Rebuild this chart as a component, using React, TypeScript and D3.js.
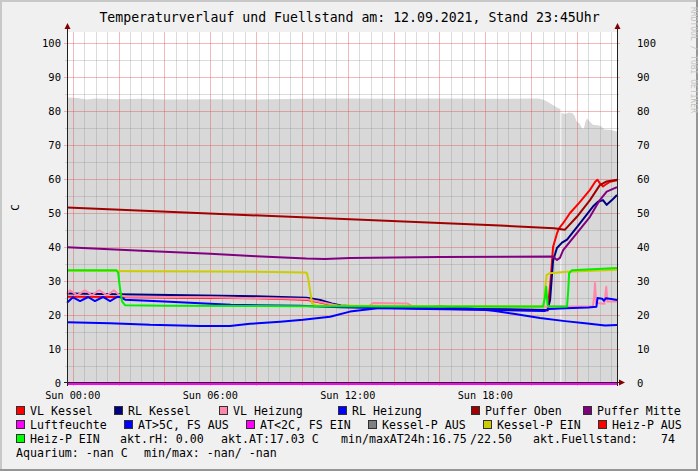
import React from "react";
import * as d3 from "d3";

type P = [number, number];

const W = 698;
const H = 471;
const PLOT_L = 67;
const PLOT_R = 617;
const PLOT_B = 383;
const PLOT_T = 32;
const H_START = -0.25;
const H_END = 23.75;
const Y_MAX = 103.25;
const FONT = "'DejaVu Sans Mono', monospace";

const titleText = "Temperaturverlauf und Fuellstand am: 12.09.2021, Stand 23:45Uhr";
const yLabel = "C";
const watermark = "RRDTOOL / TOBI OETIKER";

const xTickHours = [0, 6, 12, 18];
const xTickLabels = ["Sun 00:00", "Sun 06:00", "Sun 12:00", "Sun 18:00"];
const yTickValues = [0, 10, 20, 30, 40, 50, 60, 70, 80, 90, 100];

const fuellstand: P[] = [
  [-0.25, 84.0], [0.2, 83.8], [0.6, 83.4], [1.0, 83.7], [2, 83.5], [3, 83.6], [4, 83.4],
  [6, 83.5], [8, 83.4], [10, 83.6], [12, 83.7], [14, 83.6], [16, 83.7], [18, 83.6],
  [20.3, 83.7], [20.55, 83.3], [20.75, 82.6], [20.95, 81.8], [21.15, 81.0], [21.28, 80.6],
  [21.3, NaN], [21.32, 79.4], [21.5, 79.1], [21.65, 79.6], [21.8, 79.4], [21.9, 78.6],
  [21.98, 77.0], [22.1, 76.4], [22.22, 75.0], [22.3, 74.8], [22.38, 77.0], [22.45, 77.8],
  [22.55, 77.0], [22.7, 76.0], [22.9, 75.8], [23.05, 75.6], [23.2, 74.6], [23.45, 74.5],
  [23.75, 74.0],
];

const vlKessel: P[] = [
  [-0.25, 25.4], [2, 25.3], [5, 25.1], [8, 24.9], [10.2, 24.5], [10.8, 23.7], [11.3, 22.9],
  [11.7, 22.5], [13, 22.3], [15, 22.0], [17, 21.7], [19, 21.5], [20.72, 21.3], [20.85, 30],
  [20.96, 40], [21.13, 44], [21.22, 45.5], [21.4, 47], [21.7, 50], [22.1, 53], [22.57, 56.8],
  [22.8, 59.2], [22.9, 59.8], [23.0, 58.8], [23.14, 57.8], [23.3, 58.6], [23.45, 59.2],
  [23.75, 59.6],
];

const rlKessel: P[] = [
  [-0.25, 26.3], [2, 26.1], [5, 25.8], [8, 25.5], [10.2, 25.1], [10.8, 24.4], [11.3, 23.4],
  [11.7, 22.8], [13, 22.3], [15, 22.0], [17, 21.8], [19, 21.7], [20.72, 21.5], [20.83, 24.4],
  [20.96, 36], [21.13, 39.7], [21.35, 41.3], [21.57, 42.2], [22.14, 47], [22.7, 51.9],
  [22.92, 53.3], [23.14, 53.8], [23.3, 52.4], [23.53, 53.8], [23.75, 55.3],
];

const vlHeizung: P[] = [
  [-0.25, 26.2], [-0.12, 27.3], [0.19, 25.8], [0.535, 27.3], [0.84, 25.8], [1.146, 27.3],
  [1.5, 25.8], [1.8, 27.3], [2.0, 26.0], [2.3, 25.4], [6, 25.2], [10.2, 24.7], [10.8, 23.8],
  [11.7, 22.6], [12.9, 22.5], [13.1, 23.5], [14.6, 23.4], [14.8, 22.6], [20.6, 22.4], [21, 22.5],
  [22.7, 22.6], [22.76, 26], [22.79, 29.4], [22.84, 23.5], [23.2, 23.3], [23.25, 26.5],
  [23.28, 28.3], [23.33, 24.0], [23.75, 24.0],
];

const rlHeizung: P[] = [
  [-0.25, 23.6], [0.01, 25.2], [0.32, 24.1], [0.67, 25.3], [0.97, 24.1], [1.32, 25.3],
  [1.63, 24.1], [1.93, 25.3], [2.06, 25.3], [2.28, 24.5], [4, 24.0], [6.9, 23.0], [9.9, 22.7],
  [11.7, 22.3], [14, 21.9], [17, 21.6], [19, 21.4], [20.6, 21.2], [20.8, 21.8], [21.5, 22.0],
  [22.5, 22.2], [22.85, 22.4], [22.9, 25.0], [23.1, 24.8], [23.18, 24.2], [23.26, 24.9],
  [23.5, 24.7], [23.75, 24.4],
];

const pufferOben: P[] = [
  [-0.25, 51.6], [18.64, 46.3], [21.0, 45.5], [21.48, 45.1], [22.0, 48.9], [22.57, 53.8],
  [23.0, 58.2], [23.3, 59.3], [23.75, 59.8],
];

const pufferMitte: P[] = [
  [-0.25, 39.9], [3, 38.9], [6, 38.0], [8, 37.3], [10.2, 36.6], [11, 36.5], [12.1, 36.8],
  [16, 37.1], [20.96, 37.2], [21.13, 36.2], [21.26, 36.8], [21.4, 39.1], [22.0, 44.1],
  [22.57, 48.9], [23.0, 53.8], [23.3, 56.3], [23.75, 57.6],
];

const luftfeuchte: P[] = [[-0.25, 0], [23.75, 0]];

const aussenTemp: P[] = [
  [-0.25, 17.9], [1.63, 17.6], [3.37, 17.1], [5.55, 16.8], [6.86, 16.75], [7.74, 17.4],
  [9.05, 18.0], [10.05, 18.6], [11.23, 19.5], [12.1, 21.0], [13.3, 22.0], [15.15, 22.2],
  [16.03, 22.5], [17.34, 22.0], [18.43, 21.2], [19.3, 20.3], [20.39, 19.1], [21.48, 18.2],
  [22.36, 17.6], [23.23, 16.9], [23.75, 17.03],
];

const kesselPEin: P[] = [
  [-0.25, 33.0], [3, 32.9], [6, 32.8], [8, 32.7], [10.15, 32.5], [10.22, 32.3], [10.27, 30.9],
  [10.44, 23.5], [10.6, 22.8], [15, 22.6], [20.55, 22.5], [20.62, 28], [20.68, 31.8],
  [20.83, 32.3], [21.57, 32.7], [23.75, 33.3],
];

const heizPEin: P[] = [
  [-0.25, 33.2], [1.9, 33.2], [1.98, 32.5], [2.06, 28], [2.15, 24], [2.28, 22.9], [4, 22.7],
  [10, 22.6], [15, 22.5], [20.52, 22.5], [20.6, 25], [20.66, 28.3], [20.72, 23], [20.8, 22.5],
  [21.57, 22.5], [21.62, 27], [21.66, 32.3], [21.79, 33.2], [23.75, 33.8],
];

const seriesData: P[][] = [vlKessel, rlKessel, vlHeizung, rlHeizung, pufferOben, pufferMitte, aussenTemp, kesselPEin, heizPEin];
const seriesColors = ["#ff0000", "#000080", "#ff88aa", "#0000ff", "#a00000", "#800080", "#0000ff", "#cccc00", "#00ee00"];

const legendRow1 = [
  { box: 16, label: "VL Kessel", color: "#ff0000" },
  { box: 114, label: "RL Kessel", color: "#000080" },
  { box: 219, label: "VL Heizung", color: "#ff88aa" },
  { box: 338, label: "RL Heizung", color: "#0000ff" },
  { box: 471, label: "Puffer Oben", color: "#a00000" },
  { box: 583, label: "Puffer Mitte", color: "#800080" },
];
const legendRow2 = [
  { box: 16, label: "Luftfeuchte", color: "#ff00ff" },
  { box: 124, label: "AT>5C, FS AUS", color: "#0000ff" },
  { box: 246, label: "AT<2C, FS EIN", color: "#ff00ff" },
  { box: 368, label: "Kessel-P AUS", color: "#808080" },
  { box: 483, label: "Kessel-P EIN", color: "#cccc00" },
  { box: 598, label: "Heiz-P AUS", color: "#ff0000" },
];
const legendRow3Box = [{ box: 16, label: "Heiz-P EIN", color: "#00ff00" }];
const legendRow3Text = [
  { x: 120, text: "akt.rH: 0.00" },
  { x: 221, text: "akt.AT:17.03 C" },
  { x: 341, text: "min/maxAT24h:16.75" },
  { x: 470, text: "/22.50" },
  { x: 533, text: "akt.Fuellstand:" },
  { x: 661, text: "74" },
];
const legendRow4Text = [
  { x: 16, text: "Aquarium: -nan C" },
  { x: 144, text: "min/max: -nan/ -nan" },
];

export default function App() {
  const x = d3.scaleLinear().domain([H_START, H_END]).range([PLOT_L, PLOT_R]);
  const y = d3.scaleLinear().domain([0, Y_MAX]).range([PLOT_B, PLOT_T]);

  const area = d3
    .area<P>()
    .defined((d) => !isNaN(d[1]))
    .x((d) => x(d[0]))
    .y0(y(0))
    .y1((d) => y(d[1]));
  const line = d3
    .line<P>()
    .x((d) => x(d[0]))
    .y((d) => y(d[1]));

  const minorX = d3.range(H_START + 0.25, H_END + 0.001, 0.5).filter((h) => h % 2 !== 0);
  const majorX = d3.range(0, H_END + 0.001, 2);
  const minorY = d3.range(5, Y_MAX, 10);
  const majorY = d3.range(10, Y_MAX, 10);

  const gridGray = "rgba(140,140,140,0.3)";
  const gridRed = "rgba(222,80,80,0.4)";

  const legendRows = [legendRow1, legendRow2, legendRow3Box];
  const rowY = [411, 425, 439, 453];

  return (
    <svg width={W} height={H} style={{ position: "absolute", left: 0, top: 0 }} fontFamily={FONT}>
      <rect x={0} y={0} width={W} height={H} fill="#f0f0f0" />
      <rect x={0} y={0} width={W} height={2} fill="#c8c8c8" />
      <rect x={0} y={0} width={2} height={H} fill="#c8c8c8" />
      <rect x={0} y={H - 2} width={W} height={2} fill="#969696" />
      <rect x={W - 2} y={0} width={2} height={H} fill="#969696" />

      <text x={349.5} y={21.5} fontSize={13.2} textAnchor="middle" fill="#000">{titleText}</text>
      <text transform={`translate(690.5,7) rotate(90)`} fontSize={8} fill="#c4c4c4">{watermark}</text>
      <text transform={`translate(19,${(PLOT_T + PLOT_B) / 2}) rotate(-90)`} fontSize={11} textAnchor="middle" fill="#000">{yLabel}</text>

      <rect x={PLOT_L} y={PLOT_T} width={PLOT_R - PLOT_L} height={PLOT_B - PLOT_T} fill="#ffffff" />
      <path d={area(fuellstand) ?? ""} fill="#d8d8d8" />

      <g shapeRendering="crispEdges">
        {minorX.map((h) => (
          <line key={"mx" + h} x1={Math.round(x(h)) + 0.5} x2={Math.round(x(h)) + 0.5} y1={PLOT_T} y2={PLOT_B + 2} stroke={gridGray} />
        ))}
        {majorX.map((h) => (
          <line key={"Mx" + h} x1={Math.round(x(h)) + 0.5} x2={Math.round(x(h)) + 0.5} y1={PLOT_T} y2={PLOT_B + 3} stroke={gridRed} />
        ))}
        {minorY.map((v) => (
          <line key={"my" + v} x1={PLOT_L - 2} x2={PLOT_R + 2} y1={Math.round(y(v)) + 0.5} y2={Math.round(y(v)) + 0.5} stroke={gridGray} />
        ))}
        {majorY.map((v) => (
          <line key={"My" + v} x1={PLOT_L - 3} x2={PLOT_R + 3} y1={Math.round(y(v)) + 0.5} y2={Math.round(y(v)) + 0.5} stroke={gridRed} />
        ))}
      </g>

      {seriesData.map((s, i) => (
        <path key={"s" + i} d={line(s) ?? ""} fill="none" stroke={seriesColors[i]} strokeWidth={2} strokeLinejoin="round" />
      ))}
      <path d={line(luftfeuchte) ?? ""} fill="none" stroke="#ff00ff" strokeWidth={2} transform="translate(0,1)" />

      <g shapeRendering="crispEdges">
        <line x1={PLOT_L - 3} x2={PLOT_R + 4} y1={PLOT_B - 0.5} y2={PLOT_B - 0.5} stroke="#202020" />
        <line x1={PLOT_L + 0.5} x2={PLOT_L + 0.5} y1={PLOT_T - 4} y2={PLOT_B + 3} stroke="#202020" />
        <line x1={PLOT_R + 0.5} x2={PLOT_R + 0.5} y1={PLOT_T - 4} y2={PLOT_B + 3} stroke="#202020" />
      </g>
      <path d={`M${PLOT_L + 0.5 - 3},${PLOT_T - 3} L${PLOT_L + 0.5 + 3},${PLOT_T - 3} L${PLOT_L + 0.5},${PLOT_T - 9} Z`} fill="#800000" />
      <path d={`M${PLOT_R + 0.5 - 3},${PLOT_T - 3} L${PLOT_R + 0.5 + 3},${PLOT_T - 3} L${PLOT_R + 0.5},${PLOT_T - 9} Z`} fill="#800000" />
      <path d={`M${PLOT_R + 2},${PLOT_B - 3.5} L${PLOT_R + 2},${PLOT_B + 2.5} L${PLOT_R + 8},${PLOT_B - 0.5} Z`} fill="#800000" />

      {yTickValues.map((v) => (
        <g key={"yt" + v}>
          <text x={61} y={y(v)} dy="0.35em" fontSize={10.5} textAnchor="end" fill="#000">{v}</text>
          <text x={637} y={y(v)} dy="0.35em" fontSize={10.5} textAnchor="start" fill="#000">{v}</text>
        </g>
      ))}
      {xTickHours.map((h, i) => (
        <text key={"xt" + h} x={x(h)} y={399} fontSize={10.2} textAnchor="middle" fill="#000">{xTickLabels[i]}</text>
      ))}

      {legendRows.map((row, ri) =>
        row.map((item) => (
          <g key={item.label}>
            <rect x={item.box + 0.5} y={rowY[ri] - 4.5} width={8} height={8} fill={item.color} stroke="#303030" strokeWidth={1} />
            <text x={item.box + 14} y={rowY[ri] + 4} fontSize={11.6} fill="#000">{item.label}</text>
          </g>
        ))
      )}
      {legendRow3Text.map((t) => (
        <text key={t.text} x={t.x} y={rowY[2] + 4} fontSize={11.6} fill="#000">{t.text}</text>
      ))}
      {legendRow4Text.map((t) => (
        <text key={t.text} x={t.x} y={rowY[3] + 4} fontSize={11.6} fill="#000">{t.text}</text>
      ))}
    </svg>
  );
}
